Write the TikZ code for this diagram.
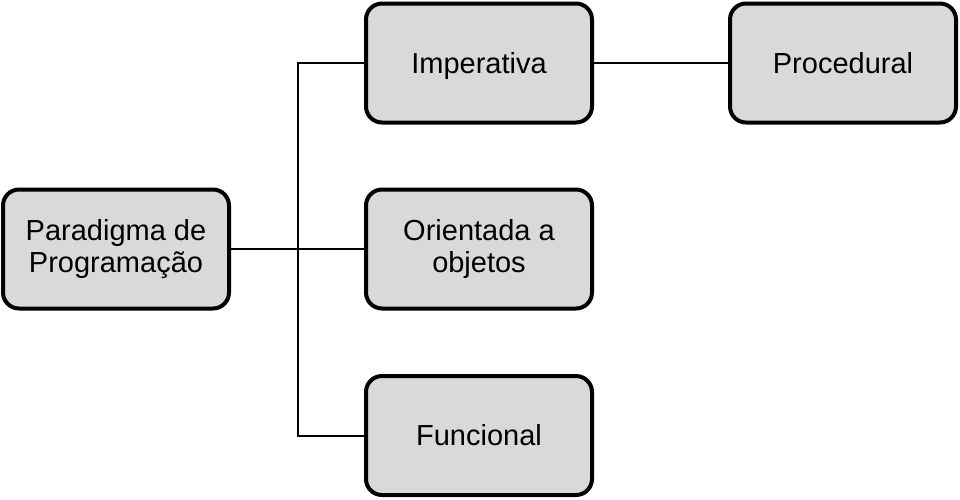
\documentclass[tikz,border=0pt]{standalone}
\usepackage{fontspec}
\setmainfont{Liberation Sans}
\begin{document}
\begin{tikzpicture}[x=1pt,y=-1pt,
  box/.style={draw=black,line width=4pt,fill=boxgray,rounded corners=16pt,
    minimum width=226pt,minimum height=119pt,inner sep=0pt,align=center,
    font=\fontsize{29}{32.5}\selectfont},
  oneline/.style={text height=20.5pt,text depth=0pt},
  conn/.style={draw=black,line width=2pt}]
\definecolor{boxgray}{HTML}{D9D9D9}
\useasboundingbox (0,0) rectangle (960,499);
\node[box] (par) at (116,249) {Paradigma de\\Programação};
\node[box,oneline] (imp) at (479,63) {Imperativa};
\node[box] (ori) at (479,249) {Orientada a\\objetos};
\node[box,oneline] (fun) at (479,435.5) {Funcional};
\node[box,oneline] (pro) at (843,63) {Procedural};
\coordinate (j) at (298,249);
\draw[conn] (par.east) -- (j);
\draw[conn] (imp.west) -- (298,63) |- (fun.west);
\draw[conn] (j) -- (ori.west);
\draw[conn] (imp.east) -- (pro.west);
\end{tikzpicture}
\end{document}
